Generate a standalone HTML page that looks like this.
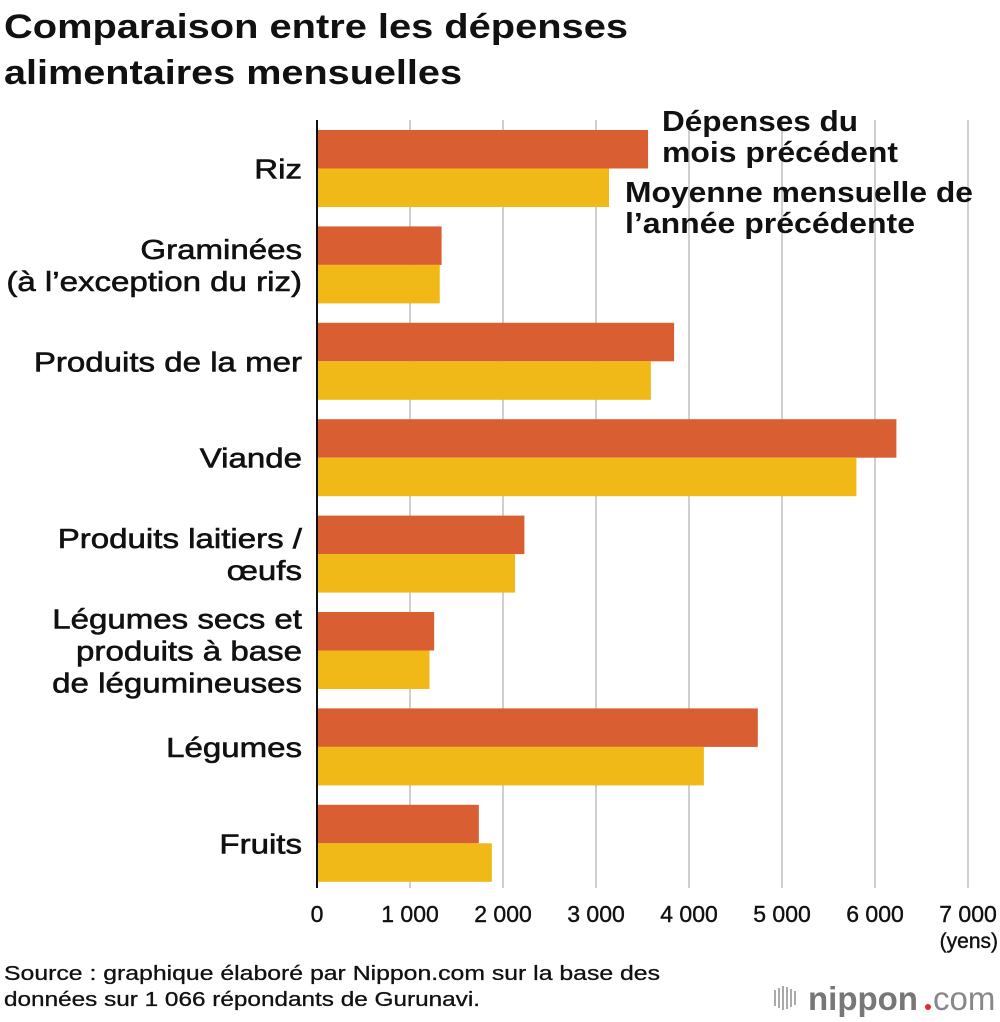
<!DOCTYPE html>
<html><head><meta charset="utf-8">
<style>
body{margin:0;background:#fff;width:1000px;height:1022px;overflow:hidden;font-family:"Liberation Sans",sans-serif;}
svg{display:block}
</style></head>
<body>
<svg id="chart" width="1000" height="1022" xmlns="http://www.w3.org/2000/svg">
<text x="4" y="38" font-size="34" font-weight="bold" fill="#111" textLength="624" lengthAdjust="spacingAndGlyphs">Comparaison entre les dépenses</text>
<text x="4" y="84" font-size="34" font-weight="bold" fill="#111" textLength="458" lengthAdjust="spacingAndGlyphs">alimentaires mensuelles</text>
<g id="grid"></g>
<g id="bars"></g>
<g id="labels"></g>
<line x1="317" y1="120" x2="317" y2="888" stroke="#111" stroke-width="2"/>
<text x="662" y="131" font-size="29" font-weight="bold" fill="#111"><tspan x="662" textLength="196" lengthAdjust="spacingAndGlyphs">Dépenses du</tspan><tspan x="662" dy="31" textLength="236" lengthAdjust="spacingAndGlyphs">mois précédent</tspan></text>
<text x="625" y="202" font-size="29" font-weight="bold" fill="#111"><tspan x="625" textLength="348" lengthAdjust="spacingAndGlyphs">Moyenne mensuelle de</tspan><tspan x="625" dy="31" textLength="290" lengthAdjust="spacingAndGlyphs">l’année précédente</tspan></text>
<text x="998" y="948" font-size="21" text-anchor="end" fill="#111" stroke="#111" stroke-width="0.4">(yens)</text>
<text x="4" y="980" font-size="20" fill="#111" stroke="#111" stroke-width="0.3"><tspan x="4" textLength="656" lengthAdjust="spacingAndGlyphs">Source : graphique élaboré par Nippon.com sur la base des</tspan><tspan x="4" dy="26" textLength="476" lengthAdjust="spacingAndGlyphs">données sur 1 066 répondants de Gurunavi.</tspan></text>
<g>
<g fill="#aaa"><rect x="774" y="990" width="2" height="16"/><rect x="778" y="988" width="2" height="20"/><rect x="782" y="986" width="2" height="24"/><rect x="786" y="987" width="2" height="22"/><rect x="790" y="989" width="2" height="18"/><rect x="794" y="991" width="2" height="14"/></g>
<text x="808" y="1010" font-size="33" font-weight="bold" fill="#777">nippon</text>
<circle cx="928" cy="1007" r="3" fill="#e8262b"/>
<text x="933" y="1010" font-size="33" fill="#888">com</text>
</g>
</svg>
<script>
const categories=[["Riz"],["Graminées","(à l’exception du riz)"],["Produits de la mer"],["Viande"],["Produits laitiers /","œufs"],["Légumes secs et","produits à base","de légumineuses"],["Légumes"],["Fruits"]];
const previousMonth=[3560,1340,3840,6230,2230,1260,4740,1740];
const yearlyAverage=[3140,1320,3590,5800,2130,1210,4160,1880];
const ticks=[0,1000,2000,3000,4000,5000,6000,7000];
const tickLabels=["0","1 000","2 000","3 000","4 000","5 000","6 000","7 000"];
const NS="http://www.w3.org/2000/svg";
const x=v=>317+v*0.093;
const groupTop=i=>130+i*96.4;
const barH=38.5;
function mk(tag,attrs,parent){const e=document.createElementNS(NS,tag);for(const k in attrs)e.setAttribute(k,attrs[k]);document.getElementById(parent).appendChild(e);return e;}
ticks.forEach((t,i)=>{
  if(t>0){const l=mk('line',{x1:x(t),x2:x(t),y1:120,y2:888,stroke:'#cfcfcf','stroke-width':2},'grid');
  
  }
  const tx=mk('text',{x:x(t),y:922,'font-size':23,'text-anchor':'middle',fill:'#111',stroke:'#111','stroke-width':0.4},'labels');
  tx.textContent=tickLabels[i];
  
  
});
categories.forEach((c,i)=>{
  const y0=groupTop(i);
  const a=mk('rect',{x:317,y:y0,width:x(previousMonth[i])-317,height:barH,fill:'#d95f33'},'bars');
  
  
  const b=mk('rect',{x:317,y:y0+barH,width:x(yearlyAverage[i])-317,height:barH,fill:'#f0b918'},'bars');
  
  
  const mid=y0+barH;const lh=32;const start=mid-(c.length-1)*lh/2+10;
  c.forEach((line,j)=>{
    const t=mk('text',{x:302,y:start+j*lh,'font-size':28,'text-anchor':'end',fill:'#111',stroke:'#111','stroke-width':0.6},'labels');
    t.textContent=line;
    
    
    const w=t.getComputedTextLength();
    t.setAttribute('textLength',w*1.18);
    t.setAttribute('lengthAdjust','spacingAndGlyphs');
  });
});
</script>
</body></html>
